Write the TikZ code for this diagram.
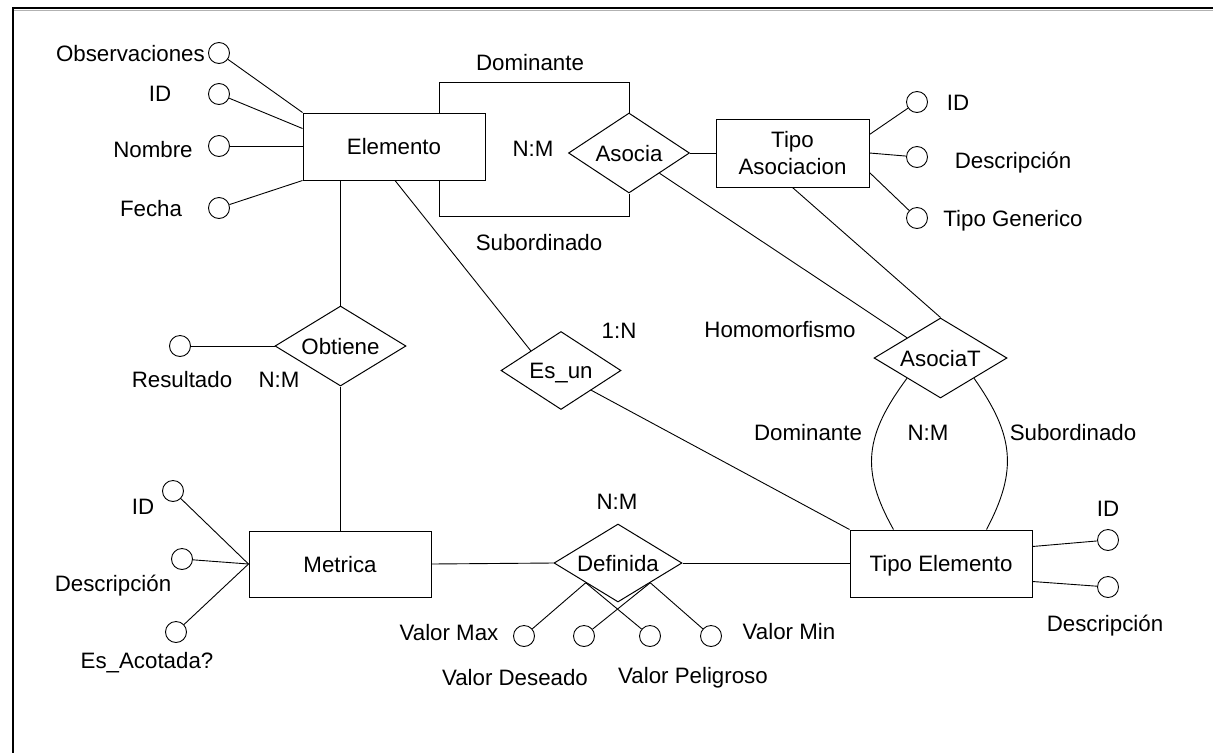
\documentclass[tikz,border=0pt]{standalone}
\usepackage{fontspec}
\setmainfont{Liberation Sans}
\usetikzlibrary{shapes.geometric,calc}
\begin{document}
\begin{tikzpicture}[x=1pt,y=1pt,
  every node/.style={font=\fontsize{22.3}{27}\selectfont},
  txt/.style={inner sep=0pt,text height=16pt,text depth=0pt},
  entity/.style={draw,line width=1pt,rectangle,inner sep=0pt,text height=16pt,text depth=0pt},
  rel/.style={draw,line width=1pt,diamond,shape aspect=1.5,inner sep=0pt,text height=16pt,text depth=0pt},
  attr/.style={draw,line width=0.9pt,circle,minimum size=21pt,inner sep=0pt},
  conn/.style={line width=0.9pt}]
\useasboundingbox (0,0) rectangle (1213,-753);
% frame
\coordinate (fTL) at (13,-8);
\coordinate (fTR) at (1213,-8);
\coordinate (fBL) at (13,-753);
\draw[gray!60,line width=1pt] (14,-10) -- (1213,-10);
\draw[line width=2pt] (fTR) -- (fTL) -- (fBL);

% entities
\node[entity,minimum width=182pt,minimum height=67pt] (elem) at (394,-146.5) {Elemento};
\node[entity,minimum width=153pt,minimum height=68pt,align=center,text height=,text depth=] (ta) at (792.5,-153) {Tipo\\Asociacion};
\node[entity,minimum width=182pt,minimum height=67pt] (te) at (941,-563.5) {Tipo Elemento};
\node[entity,minimum width=182pt,minimum height=66pt] (metrica) at (340,-564) {Metrica};

% relationships
\node[rel,minimum width=121pt,minimum height=80pt] (asocia) at (629,-153) {Asocia};
\node[rel,minimum width=133pt,minimum height=80pt] (asociaT) at (940.5,-358) {AsociaT};
\node[rel,minimum width=120pt,minimum height=78pt] (esun) at (561,-370.5) {Es\_un};
\node[rel,minimum width=131pt,minimum height=80pt] (obtiene) at (340.5,-346) {Obtiene};
\node[rel,minimum width=128pt,minimum height=78pt] (definida) at (618,-563) {Definida};

% attribute circles
\node[attr] (obsC) at (219,-53) {};
\node[attr] (idC) at (219,-94) {};
\node[attr] (nomC) at (219,-146) {};
\node[attr] (fecC) at (219,-208) {};
\node[attr] (tid) at (917,-102) {};
\node[attr] (tdesc) at (917,-157) {};
\node[attr] (tgen) at (917,-218) {};
\node[attr] (teid) at (1108,-540) {};
\node[attr] (tedesc) at (1108,-587) {};
\node[attr] (resC) at (180,-346) {};
\node[attr] (midC) at (173,-491) {};
\node[attr] (mdesC) at (182,-559) {};
\node[attr] (macC) at (176,-632) {};
\node[attr] (vmax) at (524,-636) {};
\node[attr] (vdes) at (584,-636) {};
\node[attr] (vpel) at (650,-636) {};
\node[attr] (vmin) at (711,-636) {};

% labels
\node[txt,anchor=east] (lObs) at (205,-53) {Observaciones};
\node[txt] (lId1) at (160,-93) {ID};
\node[txt] (lNom) at (153,-149) {Nombre};
\node[txt] (lFec) at (151,-208) {Fecha};
\node[txt] (lDom1) at (530,-62) {Dominante};
\node[txt] (lNM1) at (533,-148) {N:M};
\node[txt] (lSub1) at (539,-242) {Subordinado};
\node[txt] (lId2) at (958,-102) {ID};
\node[txt] (lDesc2) at (1013,-160) {Descripción};
\node[txt] (lGen) at (1013,-218) {Tipo Generico};
\node[txt] (lHom) at (780,-329) {Homomorfismo};
\node[txt] (l1N) at (619,-330) {1:N};
\node[txt] (lDom2) at (808,-432) {Dominante};
\node[txt] (lNM2) at (928,-432) {N:M};
\node[txt] (lSub2) at (1073,-432) {Subordinado};
\node[txt] (lId3) at (1108,-508) {ID};
\node[txt] (lDesc3) at (1105,-623) {Descripción};
\node[txt] (lRes) at (182,-379) {Resultado};
\node[txt] (lNM3) at (279,-379) {N:M};
\node[txt] (lId4) at (143,-506) {ID};
\node[txt] (lDesc4) at (113,-583) {Descripción};
\node[txt] (lAc) at (147,-660) {Es\_Acotada?};
\node[txt] (lNM4) at (617,-501) {N:M};
\node[txt] (lVmax) at (449,-632) {Valor Max};
\node[txt] (lVdes) at (515,-677) {Valor Deseado};
\node[txt] (lVpel) at (693,-675) {Valor Peligroso};
\node[txt] (lVmin) at (789,-631) {Valor Min};

% Elemento attributes
\draw[conn] (obsC) -- (elem.north west);
\draw[conn] (idC) -- ([yshift=-16pt]elem.north west);
\draw[conn] (nomC) -- (nomC -| elem.west);
\draw[conn] (fecC) -- (elem.south west);

% Asocia loop
\coordinate (dT) at (439,-82);
\coordinate (dB) at (439,-216);
\draw[conn] (dT |- elem.north) -- (dT) -| (asocia.north);
\draw[conn] (dB |- elem.south) -- (dB) -| (asocia.south);
\draw[conn] (asocia.east) -- (asocia.east -| ta.west);

% Tipo Asociacion attributes
\draw[conn] (tid) -- ([yshift=-16pt]ta.north east);
\draw[conn] (tdesc) -- (ta.east);
\draw[conn] (tgen) -- ([yshift=15pt]ta.south east);

% AsociaT
\draw[conn] (asocia.south east) -- (asociaT.north west);
\draw[conn] (ta.south) -- (asociaT.north);
\draw[conn] (asociaT.south west) .. controls (865,-435) and (860,-470) .. ([xshift=44pt]te.north west);
\draw[conn] (asociaT.south east) .. controls (1014,-435) and (1018,-470) .. ([xshift=-46pt]te.north east);

% Tipo Elemento attributes
\draw[conn] (teid) -- ([yshift=-17pt]te.north east);
\draw[conn] (tedesc) -- ([yshift=16pt]te.south east);

% Es_un
\draw[conn] ([xshift=1pt]elem.south) -- (esun.north west);
\draw[conn] (esun.south east) -- (te.north west);

% Obtiene
\draw[conn] (obtiene.north |- elem.south) -- (obtiene.north);
\draw[conn] (obtiene.south) -- (obtiene.south |- metrica.north);
\draw[conn] (resC) -- (obtiene.west);

% Metrica attributes
\draw[conn] (midC) -- (metrica.west);
\draw[conn] (mdesC) -- (metrica.west);
\draw[conn] (macC) -- (metrica.west);

% Definida
\draw[conn] (metrica.east) -- (definida.west);
\draw[conn] (definida.east) -- (definida.east -| te.west);
\draw[conn] (vmax) -- (definida.south west);
\draw[conn] (vpel) -- (definida.south west);
\draw[conn] (vdes) -- (definida.south east);
\draw[conn] (vmin) -- (definida.south east);
\end{tikzpicture}
\end{document}
